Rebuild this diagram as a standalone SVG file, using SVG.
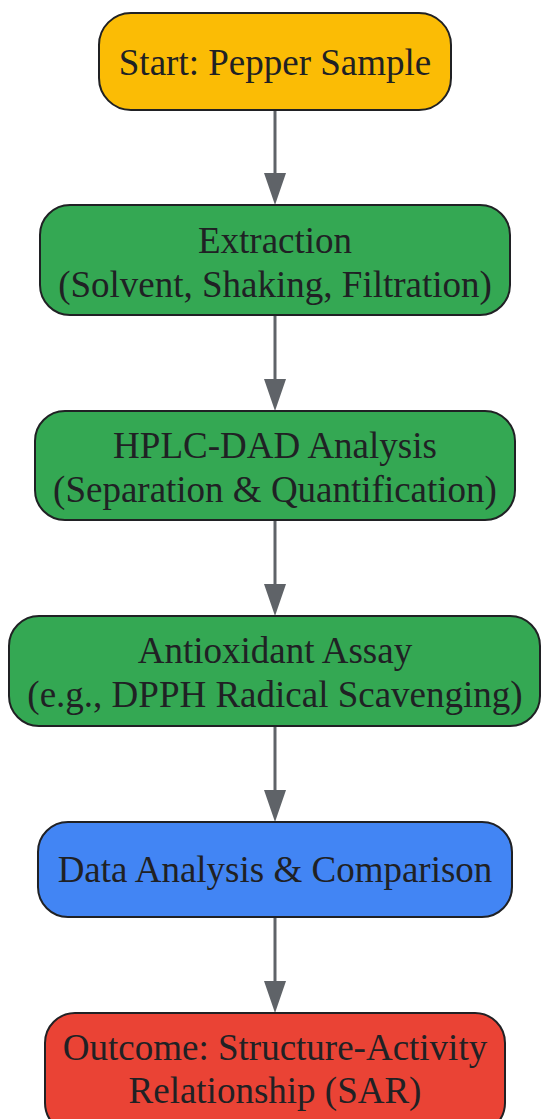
<svg xmlns="http://www.w3.org/2000/svg" width="541" height="1119" viewBox="0 0 541 1119">
<defs>
<style>
.n{stroke:#202124;stroke-width:2;}
.t{font-family:"Liberation Serif",serif;font-size:37px;fill:#202124;text-anchor:middle;}
.e{stroke:#5f6368;stroke-width:3;fill:none;}
.a{fill:#5f6368;}
</style>
</defs>
<g id="edges">
<line class="e" x1="275" y1="110" x2="275" y2="174"/>
<path class="a" d="M264,173 L286,173 L275,205 Z"/>
<line class="e" x1="275" y1="315" x2="275" y2="380"/>
<path class="a" d="M264,379 L286,379 L275,411 Z"/>
<line class="e" x1="275" y1="520" x2="275" y2="585"/>
<path class="a" d="M264,584 L286,584 L275,616 Z"/>
<line class="e" x1="275" y1="726" x2="275" y2="791"/>
<path class="a" d="M264,790 L286,790 L275,822 Z"/>
<line class="e" x1="275" y1="917" x2="275" y2="982"/>
<path class="a" d="M264,981 L286,981 L275,1013 Z"/>
</g>
<g id="start">
<rect class="n" x="99" y="13" width="352" height="97" rx="32" fill="#FBBC05"/>
<text class="t" x="275" y="75">Start: Pepper Sample</text>
</g>
<g id="extraction">
<rect class="n" x="40" y="205" width="470" height="110" rx="30" fill="#34A853"/>
<text class="t" x="275" y="253">Extraction</text>
<text class="t" x="275" y="297">(Solvent, Shaking, Filtration)</text>
</g>
<g id="hplc">
<rect class="n" x="35" y="411" width="480" height="109" rx="30" fill="#34A853"/>
<text class="t" x="275" y="458">HPLC-DAD Analysis</text>
<text class="t" x="275" y="502">(Separation &amp; Quantification)</text>
</g>
<g id="assay">
<rect class="n" x="9" y="616" width="531" height="110" rx="30" fill="#34A853"/>
<text class="t" x="275" y="663">Antioxidant Assay</text>
<text class="t" x="275" y="707">(e.g., DPPH Radical Scavenging)</text>
</g>
<g id="data">
<rect class="n" x="38" y="822" width="474" height="95" rx="30" fill="#4285F4"/>
<text class="t" x="275" y="882">Data Analysis &amp; Comparison</text>
</g>
<g id="outcome">
<rect class="n" x="45" y="1013" width="460" height="120" rx="30" fill="#EA4335"/>
<text class="t" x="275" y="1060">Outcome: Structure-Activity</text>
<text class="t" x="275" y="1103">Relationship (SAR)</text>
</g>
</svg>
